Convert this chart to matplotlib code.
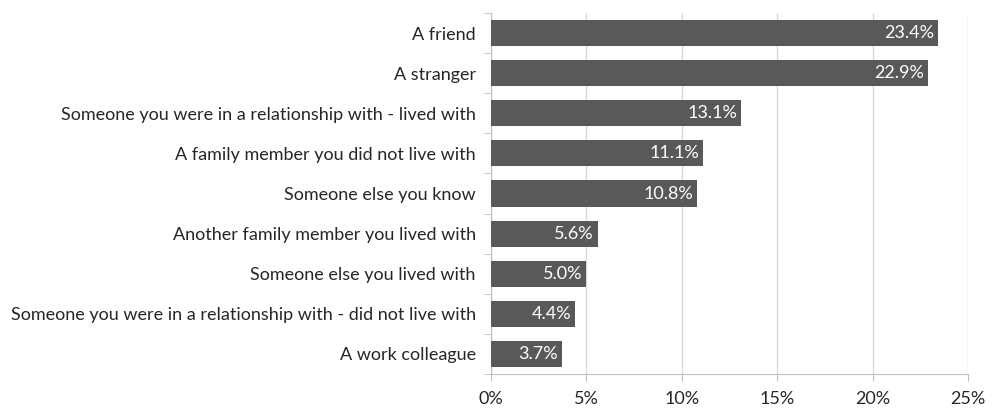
import matplotlib
matplotlib.use("Agg")
import matplotlib.pyplot as plt
from matplotlib.ticker import FuncFormatter

categories = [
    "A friend",
    "A stranger",
    "Someone you were in a relationship with - lived with",
    "A family member you did not live with",
    "Someone else you know",
    "Another family member you lived with",
    "Someone else you lived with",
    "Someone you were in a relationship with - did not live with",
    "A work colleague",
]
values = [23.4, 22.9, 13.1, 11.1, 10.8, 5.6, 5.0, 4.4, 3.7]
xticks = [0, 5, 10, 15, 20, 25]

plt.rcParams['font.family'] = ['Lato', 'DejaVu Sans']

fig = plt.figure(figsize=(9.97, 4.13), dpi=100)
ax = fig.add_axes([0.4925, 0.0944, 0.4785, 0.8741])

ypos = list(range(len(categories)))
ax.barh(ypos, values, height=0.65, color="#595959", zorder=3)
for y, v in zip(ypos, values):
    ax.text(v - 0.2, y, f"{v:.1f}%", ha="right", va="center", color="white",
            fontsize=13, zorder=4)

ax.set_xlim(0, 25)
ax.set_ylim(len(categories) - 0.5, -0.5)
ax.set_xticks(xticks)
ax.xaxis.set_major_formatter(FuncFormatter(lambda x, p: f"{int(x)}%"))
ax.set_yticks(ypos)
ax.set_yticklabels(categories)
ax.set_yticks([i + 0.5 for i in range(-1, len(categories))], minor=True)

ax.grid(axis="x", color="#d9d9d9", linewidth=1, zorder=0)
for s in ["top", "right"]:
    ax.spines[s].set_visible(False)
ax.spines["left"].set_color("#bfbfbf")
ax.spines["bottom"].set_color("#bfbfbf")
ax.tick_params(axis="y", which="major", length=0, pad=11, labelsize=13, labelcolor="#262626")
ax.tick_params(axis="y", which="minor", length=5, color="#bfbfbf")
ax.tick_params(axis="x", length=5, color="#bfbfbf", labelsize=13, labelcolor="#262626", pad=7)

fig.savefig("out.png", dpi=100)
